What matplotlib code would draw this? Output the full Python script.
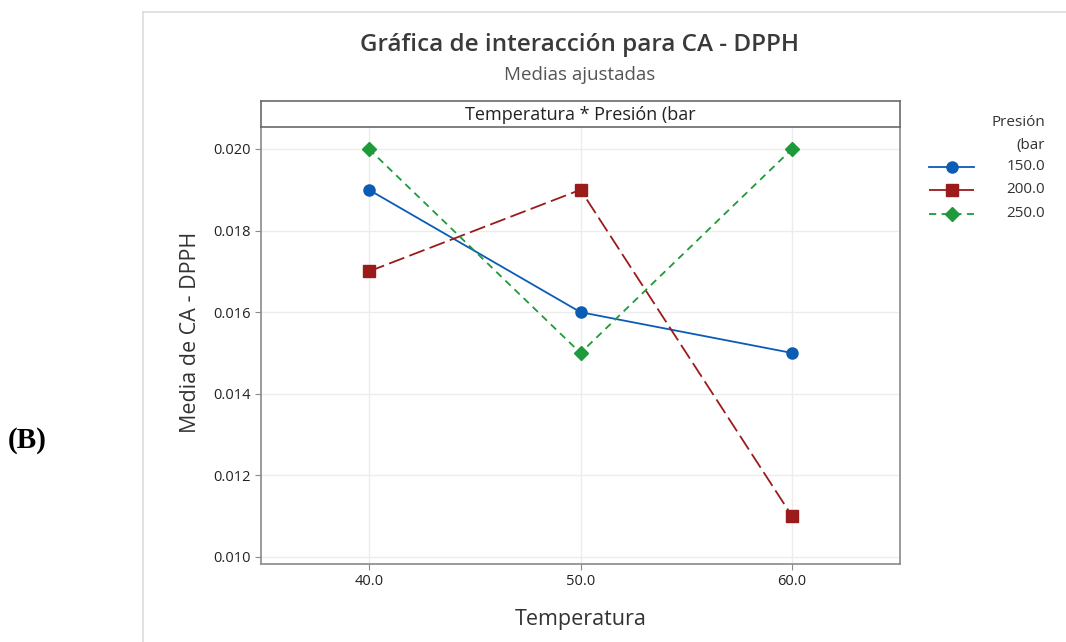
import matplotlib
matplotlib.use("Agg")
import matplotlib.pyplot as plt
from matplotlib.lines import Line2D

plt.rcParams['font.family'] = ['Open Sans', 'DejaVu Sans']

temperatura = [40.0, 50.0, 60.0]
presiones = ["150.0", "200.0", "250.0"]
medias_150 = [0.019, 0.016, 0.015]
medias_200 = [0.017, 0.019, 0.011]
medias_250 = [0.020, 0.015, 0.020]
y_ticks = [0.010, 0.012, 0.014, 0.016, 0.018, 0.020]
x_ticks = [40.0, 50.0, 60.0]

series = [medias_150, medias_200, medias_250]
colors = ["#0B5CB5", "#9B1B1B", "#1E9A3A"]
markers = ["o", "s", "D"]
dashes = [None, (9, 3), (4, 3)]
leg_dashes = [None, (12, 4), (4, 3)]
msizes = [8, 8, 7.5]

W, H = 1066, 642
fig = plt.figure(figsize=(W / 100, H / 100), dpi=100)

def rect(x0, y0, x1, y1):
    return [x0 / W, 1 - y1 / H, (x1 - x0) / W, (y1 - y0) / H]

# outer frame lines
fig.add_artist(Line2D([143 / W, 143 / W], [0, 1 - 12 / H], color="#dcdcdc", lw=1.2))
fig.add_artist(Line2D([143 / W, 1], [1 - 12 / H, 1 - 12 / H], color="#dcdcdc", lw=1.2))

ax = fig.add_axes(rect(261, 127, 900, 564))
for vals, c, m, d, ms, lab in zip(series, colors, markers, dashes, msizes, presiones):
    ln, = ax.plot(temperatura, vals, color=c, marker=m, markersize=ms, lw=1.3, label=lab)
    if d:
        ln.set_dashes(d)

ax.set_xlim(34.9, 65.1)
ax.set_ylim(0.009828, 0.020539)
ax.set_yticks(y_ticks)
ax.set_yticklabels([f"{v:.3f}" for v in y_ticks])
ax.set_xticks(x_ticks)
ax.set_xticklabels([f"{v:.1f}" for v in x_ticks])
ax.grid(True, color="#ececec", lw=1)
ax.set_axisbelow(True)
for s in ax.spines.values():
    s.set_color("#8a8a8a")
    s.set_linewidth(1.2)
ax.spines['top'].set_visible(False)
ax.tick_params(colors="#8a8a8a", labelcolor="#222222", labelsize=10.5, length=4)
ax.set_xlabel("Temperatura", fontsize=15.5, color="#333333", labelpad=14)
ax.set_ylabel("Media de CA - DPPH", fontsize=15.5, color="#333333")
ax.yaxis.set_label_coords((201 - 261) / 639, (564 - 332) / 437)

# strip
sax = fig.add_axes(rect(261, 101, 900, 127))
sax.set_xticks([]); sax.set_yticks([])
for s in sax.spines.values():
    s.set_color("#6a6a6a")
    s.set_linewidth(1.2)
sax.text(0.5, 0.45, "Temperatura * Presión (bar", ha="center", va="center",
         fontsize=13, color="#222222", transform=sax.transAxes)

fig.text(580 / W, 1 - 45 / H, "Gráfica de interacción para CA - DPPH", ha="center",
         va="center", fontsize=17.5, color="#3a3a3a", fontweight="semibold")
fig.text(580 / W, 1 - 75 / H, "Medias ajustadas", ha="center", va="center",
         fontsize=13.5, color="#555555")

# legend
fig.text(1045 / W, 1 - 123 / H, "Presión", ha="right", va="center", fontsize=11, color="#333333")
fig.text(1045 / W, 1 - 145 / H, "(bar", ha="right", va="center", fontsize=11, color="#333333")
leg_y = [167, 190, 214]
for ly, c, m, d, ms, lab in zip(leg_y, colors, markers, leg_dashes, msizes, presiones):
    ln = Line2D([929 / W, 974 / W], [1 - ly / H] * 2, color=c, lw=1.3, transform=fig.transFigure)
    if d:
        ln.set_dashes(d)
    fig.add_artist(ln)
    fig.add_artist(Line2D([951.5 / W], [1 - ly / H], color=c, marker=m, markersize=ms,
                          transform=fig.transFigure))
    fig.text(1045 / W, 1 - ly / H, lab, ha="right", va="center", fontsize=11, color="#333333")

fig.text(8 / W, 1 - 440 / H, "(B)", ha="left", va="center", fontsize=21, fontweight="bold",
         family="Liberation Serif", color="black")

fig.savefig("out.png", dpi=100)
